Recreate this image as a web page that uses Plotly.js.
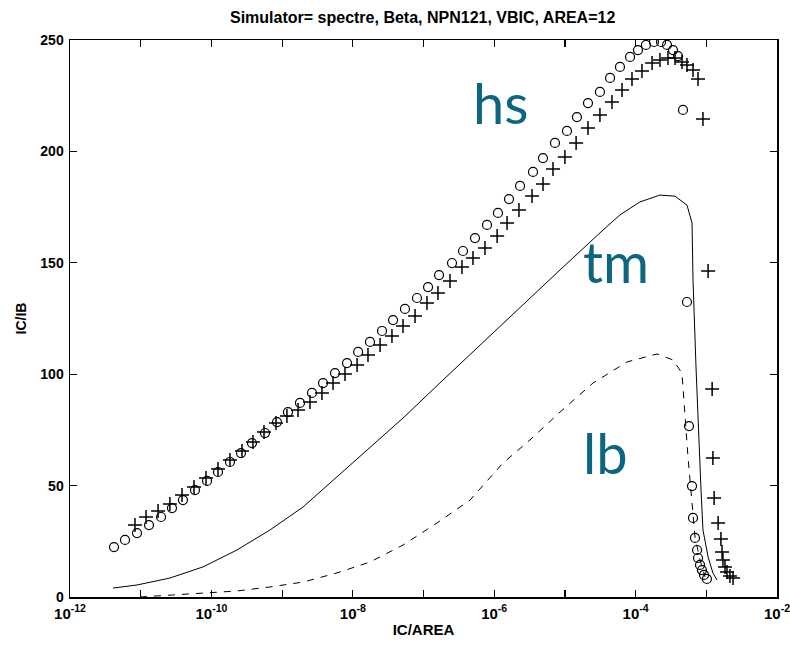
<!DOCTYPE html>
<html>
<head>
<meta charset="utf-8">
<script src="https://cdn.plot.ly/plotly-3.0.1.min.js"></script>
<style>html,body{margin:0;padding:0;background:#fff;}#chart{width:790px;height:651px;}</style>
</head>
<body>
<div id="chart"></div>
<script>
// Circles (hs)
const hsX = [4.19e-12,6.00e-12,8.87e-12,1.31e-11,1.94e-11,2.77e-11,3.96e-11,5.86e-11,8.67e-11,1.24e-10,1.83e-10,2.62e-10,3.75e-10,5.73e-10,8.47e-10,1.21e-9,1.79e-9,2.65e-9,3.79e-9,5.60e-9,8.28e-9,1.19e-8,1.75e-8,2.59e-8,3.71e-8,5.47e-8,8.09e-8,1.16e-7,1.66e-7,2.53e-7,3.62e-7,5.35e-7,7.91e-7,1.13e-6,1.62e-6,2.32e-6,3.54e-6,4.90e-6,7.24e-6,1.07e-5,1.48e-5,2.12e-5,3.13e-5,4.35e-5,6.01e-5,8.34e-5,1.08e-4,1.40e-4,1.82e-4,2.29e-4,2.78e-4,3.38e-4,3.98e-4,4.68e-4,5.33e-4,5.69e-4,6.28e-4,6.49e-4,6.92e-4,7.40e-4,7.64e-4,8.15e-4,8.69e-4,9.29e-4,1.02e-3];
const hsY = [22.4,25.6,28.7,32.3,35.9,39.9,43.5,48.0,52.1,56.1,60.6,64.6,69.1,73.6,78.5,83.0,87.1,91.6,96.0,100.5,105.0,110.0,114.5,119.4,124.3,129.3,134.2,139.1,144.5,149.9,155.3,161.1,167.0,172.4,178.6,184.5,190.8,197.0,203.8,209.2,215.4,221.7,226.7,233.0,237.9,242.4,245.5,247.8,249.1,249.1,247.8,245.5,242.8,218.6,132.4,76.7,49.8,35.5,26.5,21.1,17.5,14.4,12.1,9.9,8.1];
// Pluses
const plusX = [8.30e-12,1.19e-11,1.76e-11,2.59e-11,3.84e-11,5.68e-11,8.39e-11,1.24e-10,1.83e-10,2.71e-10,3.87e-10,5.55e-10,8.20e-10,1.17e-9,1.68e-9,2.48e-9,3.66e-9,5.25e-9,7.76e-9,1.15e-8,1.64e-8,2.43e-8,3.58e-8,5.13e-8,7.59e-8,1.12e-7,1.60e-7,2.37e-7,3.50e-7,5.01e-7,7.41e-7,1.10e-6,1.52e-6,2.24e-6,3.43e-6,4.90e-6,6.79e-6,1.00e-5,1.44e-5,2.12e-5,3.13e-5,4.63e-5,6.43e-5,8.89e-5,1.23e-4,1.71e-4,2.21e-4,2.87e-4,3.61e-4,4.53e-4,5.33e-4,6.49e-4,7.64e-4,8.97e-4,1.06e-3,1.21e-3,1.24e-3,1.29e-3,1.47e-3,1.61e-3,1.67e-3,1.72e-3,1.84e-3,1.96e-3,2.16e-3,2.39e-3];
const plusY = [32.3,35.9,38.6,41.7,45.8,49.4,53.4,57.5,61.5,65.5,69.6,74.1,78.1,81.2,83.9,87.5,91.6,96.0,100.1,104.1,108.6,113.1,117.1,121.6,126.1,132.0,136.4,141.8,148.1,152.2,156.6,162.0,167.9,173.7,180.0,185.4,192.1,197.5,203.8,210.5,216.3,222.2,227.6,232.5,236.1,239.7,241.0,241.9,241.9,240.1,238.8,236.5,232.5,214.5,146.3,93.4,62.4,44.4,33.2,26.0,20.2,16.6,13.5,11.2,9.4,8.5];
// Solid line (tm)
const tmX = [4.06e-12,8.87e-12,2.59e-11,7.60e-11,2.30e-10,6.75e-10,1.98e-9,5.97e-9,1.75e-8,5.13e-8,1.71e-7,6.30e-7,2.32e-6,8.53e-6,3.46e-5,6.01e-5,1.15e-4,2.21e-4,3.61e-4,5.33e-4,6.28e-4,6.49e-4,7.15e-4,7.64e-4,8.42e-4,8.97e-4,1.06e-3,1.24e-3,1.42e-3];
const tmY = [4.0,5.4,8.5,13.5,21.1,30.1,40.4,53.9,67.3,80.3,96.1,113.1,129.7,146.8,164.7,171.5,177.3,180.4,179.9,175.9,167.9,142.3,103.2,78.1,48.0,30.1,18.0,10.8,7.6];
// Dashed line (lb)
const lbX = [9.77e-12,2.59e-11,7.60e-11,2.30e-10,6.75e-10,1.98e-9,5.97e-9,1.75e-8,5.13e-8,1.55e-7,4.55e-7,1.33e-6,3.21e-6,8.53e-6,2.49e-5,7.55e-5,2.01e-4,3.38e-4,4.53e-4,5.00e-4,5.51e-4,6.28e-4,6.92e-4,8.15e-4,9.59e-4];
const lbY = [0,0.9,1.8,2.7,4.5,6.7,10.8,15.7,23.3,33.2,43.5,60.1,70.5,83.0,96.0,105.5,109.1,106.4,100.5,80.8,62.8,42.2,26.9,16.6,9.0];

const xTickVals = [1e-12,1e-11,1e-10,1e-9,1e-8,1e-7,1e-6,1e-5,1e-4,1e-3,1e-2];
const xTickText = ['10<sup>-12</sup>','','10<sup>-10</sup>','','10<sup>-8</sup>','','10<sup>-6</sup>','','10<sup>-4</sup>','','10<sup>-2</sup>'];
const yTickVals = [0,50,100,150,200,250];

const labels = ['hs','tm','lb'];
const labelPos = [[0.609,0.887],[0.772,0.602],[0.758,0.259]];

const F = 'Liberation Sans, Arial, sans-serif';
const traces = [
  {x: tmX, y: tmY, type:'scatter', mode:'lines', line:{color:'#000', width:1}},
  {x: lbX, y: lbY, type:'scatter', mode:'lines', line:{color:'#000', width:1, dash:'7px,7px'}},
  {x: hsX, y: hsY, type:'scatter', mode:'markers', marker:{symbol:'circle-open', size:9, color:'#000', line:{width:1.2, color:'#000'}}, cliponaxis:true},
  {x: plusX, y: plusY, type:'scatter', mode:'markers', marker:{symbol:'cross-thin-open', size:10, color:'#000', line:{width:1.5, color:'#000'}}, cliponaxis:true}
];
const layout = {
  width:790, height:651,
  margin:{l:70, r:13, t:40, b:54},
  paper_bgcolor:'#fff', plot_bgcolor:'#fff',
  showlegend:false,
  font:{family:F, color:'#000'},
  title:{text:'Simulator= spectre, Beta, NPN121, VBIC, AREA=12', font:{family:F, size:16, weight:'bold', color:'#000'}, x:0.535, xanchor:'center', y:0.973, yanchor:'middle'},
  xaxis:{type:'log', range:[-12,-2], tickvals:xTickVals, ticktext:xTickText, ticks:'inside', ticklen:7, tickwidth:1.2, tickcolor:'#000',
    showline:true, linecolor:'#000', linewidth:1.5, mirror:'ticks', showgrid:false, zeroline:false,
    tickfont:{family:F, size:15, weight:'bold'}, ticklabelstandoff:2, ticklabeloverflow:'allow',
    title:{text:'IC/AREA', font:{family:F, size:15, weight:'bold'}, standoff:4}},
  yaxis:{range:[0,250], tickvals:yTickVals, ticks:'inside', ticklen:7, tickwidth:1.2, tickcolor:'#000',
    showline:true, linecolor:'#000', linewidth:1.5, mirror:'ticks', showgrid:false, zeroline:false,
    tickfont:{family:F, size:14, weight:'bold'}, ticklabelstandoff:2, ticklabeloverflow:'allow',
    title:{text:'IC/IB', font:{family:F, size:14, weight:'bold'}, standoff:10}},
  annotations: labels.map((t,i)=>({text:t, xref:'paper', yref:'paper', x:labelPos[i][0], y:labelPos[i][1], xanchor:'center', yanchor:'middle', showarrow:false,
    font:{family:'Lato, Noto Sans, sans-serif', size:56, color:'#0d6680'}}))
};
Plotly.newPlot('chart', traces, layout, {staticPlot:true, displayModeBar:false});
</script>
</body>
</html>
